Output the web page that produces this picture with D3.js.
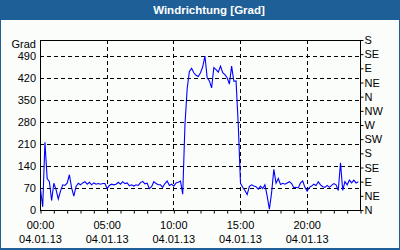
<!DOCTYPE html>
<html>
<head>
<meta charset="utf-8">
<script src="https://cdn.jsdelivr.net/npm/d3@7"></script>
<style>
  body { margin: 0; background: #fff; }
  text { font-family: "Liberation Sans", Arial, sans-serif; }
</style>
</head>
<body>
<div id="chart"></div>
<script>
var svgWidth = 400;
var svgHeight = 250;

// data: wind direction, one reading every 10 minutes from 04.01.13 00:00
var startTime = new Date(2013, 0, 4, 0, 0);
var stepMinutes = 10;
var windDir = [
  65, 10, 215, 100, 90, 30, 85, 65, 35, 60,
  80, 78, 85, 112, 70, 44, 75, 85, 80, 86,
  90, 82, 88, 80, 86, 82, 84, 82, 84, 84,
  68, 78, 82, 80, 82, 88, 82, 90, 84, 86,
  77, 80, 76, 80, 78, 87, 91, 83, 85, 68,
  74, 90, 84, 80, 80, 72, 84, 92, 78, 82,
  76, 86, 88, 92, 50, 270, 385, 440, 450, 436,
  428, 424, 436, 455, 489, 420, 410, 388, 452, 446,
  438, 457, 436, 430, 420, 400, 457, 409, 410, 270,
  85, 72, 62, 49, 75, 80, 76, 74, 66, 76,
  68, 80, 44, 3, 55, 129, 85, 100, 81, 85,
  82, 86, 90, 84, 71, 72, 70, 86, 92, 72,
  60, 72, 76, 82, 78, 90, 80, 74, 72, 78,
  72, 78, 84, 80, 62, 150, 62, 90, 80, 95,
  86, 95, 86, 90
];

var title = "Windrichtung [Grad]";
var yUnit = "Grad";
var yTicks = [0, 70, 140, 210, 280, 350, 420, 490];
var compassLabels = ["N", "NE", "E", "SE", "S", "SW", "W", "NW", "N", "NE", "E", "SE", "S"];
var dateLabel = "04.01.13";

var margin = { top: 40, right: 40, bottom: 40, left: 40 };
var width = 320;
var height = 170;

var svg = d3.select("#chart")
  .append("svg")
  .attr("width", svgWidth)
  .attr("height", svgHeight);

// frame + title bar
svg.append("rect")
  .attr("width", svgWidth)
  .attr("height", svgHeight)
  .attr("fill", "#1d5f96");
svg.append("rect")
  .attr("x", 1)
  .attr("y", 20)
  .attr("width", svgWidth - 2)
  .attr("height", 228)
  .attr("fill", "#fbfdfb");
svg.append("text")
  .attr("x", 209)
  .attr("y", 14)
  .attr("text-anchor", "middle")
  .attr("fill", "#fff")
  .style("font-weight", "bold")
  .style("font-size", "11.5px")
  .text(title);

var chartGroup = svg.append("g")
  .attr("transform", `translate(${margin.left}, ${margin.top})`);

var data = windDir.map(function(v, i) {
  return { time: d3.timeMinute.offset(startTime, i * stepMinutes), value: v };
});

var xScale = d3.scaleTime()
  .domain([startTime, d3.timeHour.offset(startTime, 24)])
  .range([0, width]);
var yScale = d3.scaleLinear()
  .domain([0, 540])
  .range([height, 0]);

var dash = "4,3";

// horizontal grid
chartGroup.append("g")
  .selectAll("line")
  .data(yTicks.filter(d => d > 0))
  .enter()
  .append("line")
  .attr("x1", 0)
  .attr("x2", width)
  .attr("y1", d => Math.round(yScale(d)) + 0.5)
  .attr("y2", d => Math.round(yScale(d)) + 0.5)
  .attr("stroke", "#000")
  .attr("stroke-dasharray", dash);

// vertical grid every 5 hours
var majorTimes = d3.timeHour.every(5).range(startTime, d3.timeHour.offset(startTime, 24));
chartGroup.append("g")
  .selectAll("line")
  .data(majorTimes.slice(1))
  .enter()
  .append("line")
  .attr("x1", d => Math.round(xScale(d)) + 0.5)
  .attr("x2", d => Math.round(xScale(d)) + 0.5)
  .attr("y1", 0)
  .attr("y2", height)
  .attr("stroke", "#000")
  .attr("stroke-dasharray", dash);

// border
chartGroup.append("rect")
  .attr("x", 0.5)
  .attr("y", 0.5)
  .attr("width", width)
  .attr("height", height)
  .attr("fill", "none")
  .attr("stroke", "#000");

// left axis
var leftAxis = d3.axisLeft(yScale)
  .tickValues(yTicks)
  .tickSize(0)
  .tickPadding(4);
var leftG = chartGroup.append("g").call(leftAxis);
leftG.select(".domain").remove();
leftG.selectAll("text").style("font-size", "11px").attr("fill", "#000");

chartGroup.append("text")
  .attr("x", -4)
  .attr("y", 8)
  .attr("text-anchor", "end")
  .style("font-size", "11px")
  .text(yUnit);

// right axis, compass points
var rightAxis = d3.axisRight(yScale)
  .tickValues(d3.range(0, 541, 45))
  .tickSize(3)
  .tickPadding(1)
  .tickFormat((d, i) => compassLabels[i]);
var rightG = chartGroup.append("g")
  .attr("transform", `translate(${width + 0.5}, 0)`)
  .call(rightAxis);
rightG.select(".domain").remove();
rightG.selectAll("text").style("font-size", "11px").attr("fill", "#000");

// bottom axis, hourly ticks
var bottomAxis = d3.axisBottom(xScale)
  .ticks(d3.timeHour.every(1))
  .tickSize(3)
  .tickFormat("");
var bottomG = chartGroup.append("g")
  .attr("transform", `translate(0.5, ${height + 0.5})`)
  .call(bottomAxis);
bottomG.select(".domain").remove();

var labelG = chartGroup.append("g")
  .style("font-size", "11px")
  .attr("text-anchor", "middle");
labelG.selectAll(".t")
  .data(majorTimes)
  .enter()
  .append("text")
  .attr("x", d => xScale(d) + 0.5)
  .attr("y", height + 19)
  .text(d3.timeFormat("%H:%M"));
labelG.selectAll(".d")
  .data(majorTimes)
  .enter()
  .append("text")
  .attr("x", d => xScale(d) + 0.5)
  .attr("y", height + 33)
  .text(dateLabel);

// series
var line = d3.line()
  .x(d => xScale(d.time) + 0.5)
  .y(d => yScale(d.value));

chartGroup.append("path")
  .datum(data)
  .attr("d", line)
  .attr("fill", "none")
  .attr("stroke", "#0000ff")
  .attr("stroke-width", 1.1);
</script>
</body>
</html>
